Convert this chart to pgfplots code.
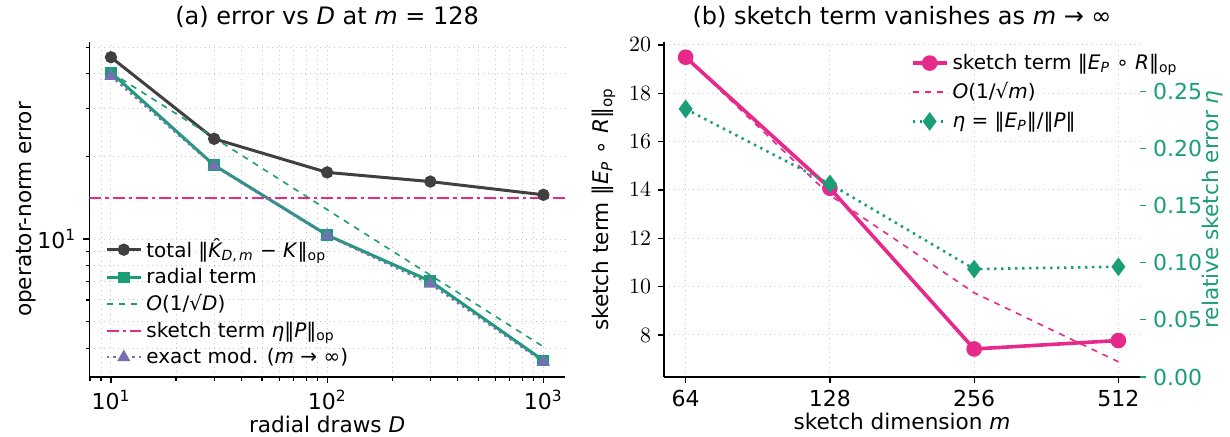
\documentclass[border=0pt]{standalone}
\usepackage{fontspec}
\setmainfont{DejaVu Sans}
\usepackage{pgfplots}
\pgfplotsset{compat=1.18}
\definecolor{cblack}{HTML}{404040}
\definecolor{cgreen}{HTML}{1B9E77}
\definecolor{cpink}{HTML}{E7298A}
\definecolor{cpurple}{HTML}{7570B3}
\begin{document}
\begin{tikzpicture}
\path[use as bounding box] (0,0) rectangle (615pt,218pt);
\pgfplotsset{
  every axis/.append style={
    scale only axis,
    font=\fontsize{11}{13}\selectfont,
    tick align=outside,
    major tick length=3pt,
    minor tick length=1.8pt,
    every tick/.style={black, line width=0.6pt},
    axis line style={line width=0.8pt},
    title style={font=\fontsize{12}{14}\selectfont, yshift=-2.5pt},
    label style={font=\fontsize{10.8}{13}\selectfont},
    xlabel style={yshift=3.5pt},
    legend style={font=\fontsize{10}{12}\selectfont, draw=none, fill=none},
    legend cell align=left,
  }
}
\begin{axis}[
  at={(44.65pt,29.5pt)}, anchor=south west,
  width=237.85pt, height=167.5pt,
  xmode=log, ymode=log,
  xmin=7.943, xmax=1258.9, ymin=3.142, ymax=52.28,
  axis x line*=bottom, axis y line*=left,
  xtick={10,100,1000}, xticklabels={10\textsuperscript{1},10\textsuperscript{2},10\textsuperscript{3}},
  minor xtick={8,9,20,30,40,50,60,70,80,90,200,300,400,500,600,700,800,900},
  ytick={10}, yticklabels={10\textsuperscript{1}},
  minor ytick={4,5,6,7,8,9,20,30,40,50},
  grid=both,
  major grid style={dotted, gray!45, line width=0.5pt},
  minor grid style={dotted, gray!45, line width=0.5pt},
  title={(a) error vs \textit{D} at \textit{m} = 128},
  xlabel={radial draws \textit{D}},
  ylabel={operator-norm error},
  ylabel style={at={(axis description cs:-0.133,0.5)}, anchor=center, rotate=0},
  legend style={at={(0.02,0.222)}, anchor=west},
]
\addplot[cblack, line width=1.5pt, mark=*, mark size=2.3pt] coordinates {(10,46.0)(30,23.2)(100,17.5)(300,16.2)(1000,14.5)};
\addlegendentry{total ‖\textit{K̂}\textsubscript{\textit{D},\,\textit{m}} − \textit{K}‖\textsubscript{op}}
\addplot[cgreen, line width=1.5pt, mark=square*, mark size=2.2pt] coordinates {(10,40.5)(30,18.6)(100,10.34)(300,7.03)(1000,3.61)};
\addlegendentry{radial term}
\addplot[cgreen, dashed, line width=0.8pt] coordinates {(10,40.5)(30,23.4)(100,12.8)(300,7.39)(1000,4.05)};
\addlegendentry{\textit{O}(1/√\textit{D})}
\addplot[cpink, line width=1.3pt, dash pattern={on 6pt off 2pt on 1.6pt off 2pt}] coordinates {(7.943,14.1)(1258.9,14.1)};
\addlegendentry{sketch term \textit{η}‖\textit{P}‖\textsubscript{op}}
\addplot[cpurple, line width=1.2pt, dash pattern={on 1.2pt off 2pt}, mark=triangle*, mark size=2.6pt, mark options={solid}] coordinates {(10,39.3)(30,18.5)(100,10.3)(300,6.87)(1000,3.57)};
\addlegendentry{exact mod. (\textit{m} → ∞)}
\end{axis}

\begin{axis}[
  at={(332pt,29.5pt)}, anchor=south west,
  width=238pt, height=167.5pt,
  xmode=log, log basis x=2,
  xmin=57.68, xmax=568.1, ymin=6.26, ymax=20.12,
  axis x line*=bottom, axis y line*=left,
  xtick={64,128,256,512}, xticklabels={64,128,256,512},
  ytick={8,10,12,14,16,18,20},
  grid=major,
  major grid style={dotted, gray!45, line width=0.5pt},
  title={(b) sketch term vanishes as \textit{m} → ∞},
  xlabel={sketch dimension \textit{m}},
  ylabel={sketch term ‖\textit{E}\textsubscript{\textit{P}} ∘ \textit{R}‖\textsubscript{op}},
]
\addplot[cpink, line width=1.8pt, mark=*, mark size=3pt] coordinates {(64,19.49)(128,14.07)(256,7.42)(512,7.77)};
\addplot[cpink, dashed, line width=0.8pt] coordinates {(64,19.49)(128,13.78)(256,9.745)(512,6.89)};
\end{axis}

\begin{axis}[
  at={(332pt,29.5pt)}, anchor=south west,
  width=238pt, height=167.5pt,
  xmode=log, log basis x=2,
  xmin=57.68, xmax=568.1, ymin=0, ymax=0.2932,
  axis x line=none, axis y line*=right,
  y axis line style={draw=none},
  ytick={0,0.05,0.10,0.15,0.20,0.25},
  yticklabels={0.00,0.05,0.10,0.15,0.20,0.25},
  ytick style={cgreen},
  yticklabel style={text=cgreen},
  ylabel={relative sketch error \textit{η}},
  ylabel style={text=cgreen, at={(axis description cs:1.153,0.5)}, anchor=center},
  legend cell align=left,
  legend style={at={(0.505,0.85)}, anchor=west, row sep=1.2pt},
]
\addlegendimage{color=cpink, line width=1.8pt, mark=*, mark size=3pt}
\addlegendentry{sketch term ‖\textit{E}\textsubscript{\textit{P}} ∘ \textit{R}‖\textsubscript{op}}
\addlegendimage{color=cpink, dashed, line width=1pt, mark=none}
\addlegendentry{\textit{O}(1/√\textit{m})}
\addplot[cgreen, line width=1.3pt, dash pattern={on 1.2pt off 2.3pt}, mark=diamond*, mark size=3.6pt, mark options={solid}] coordinates {(64,0.2346)(128,0.169)(256,0.0945)(512,0.0965)};
\addlegendentry{\textit{η} = ‖\textit{E}\textsubscript{\textit{P}}‖/‖\textit{P}‖}
\end{axis}
\end{tikzpicture}
\end{document}
